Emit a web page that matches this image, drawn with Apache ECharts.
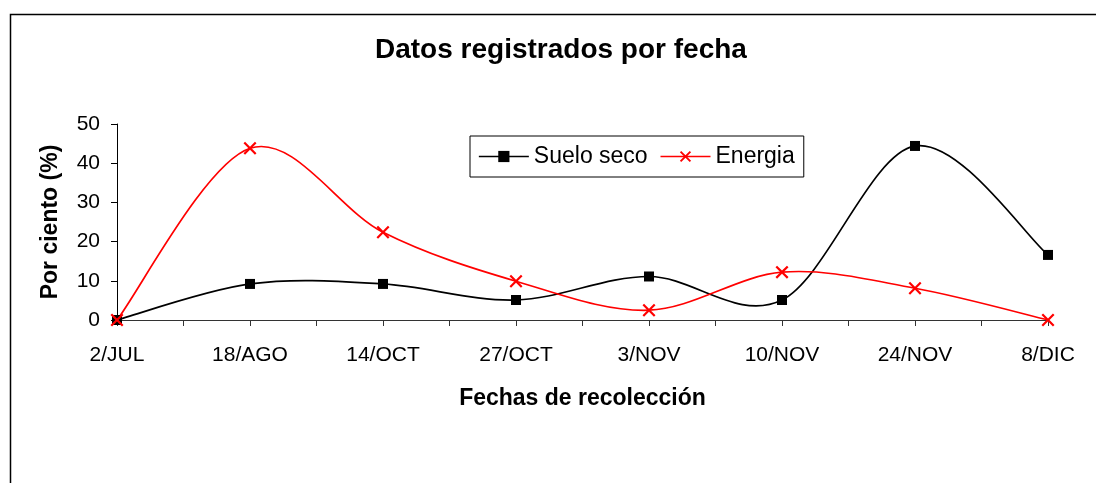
<!DOCTYPE html>
<html>
<head>
<meta charset="utf-8">
<script src="https://cdn.jsdelivr.net/npm/echarts@6/dist/echarts.min.js"></script>
<style>
  html, body { margin: 0; padding: 0; background: #fff; }
  #chart { width: 1096px; height: 483px; }
</style>
</head>
<body>
<div id="chart"></div>
<script>
// Collection dates (category labels on the x axis)
const fechas = ['2/JUL', '18/AGO', '14/OCT', '27/OCT', '3/NOV', '10/NOV', '24/NOV', '8/DIC'];
// Percent values per date
const sueloSeco = [0, 9.2, 9.2, 5.1, 11.1, 5.1, 44.4, 16.6];
const energia = [0, 43.8, 22.4, 9.9, 2.5, 12.2, 8.1, 0];
// Y axis tick range
const yMin = 0, yMax = 50, yStep = 10;

const FONT = '"Liberation Sans", Arial, sans-serif';
const BLACK = '#000000';
const RED = '#ff0000';
const toPairs = arr => arr.map((v, i) => [i, v]);
const crossPath = 'path://M0,1.2 L1.2,0 L5,3.8 L8.8,0 L10,1.2 L6.2,5 L10,8.8 L8.8,10 L5,6.2 L1.2,10 L0,8.8 L3.8,5 Z';

// Catmull-Rom style smoothed curve: one cubic segment per pair of neighbouring points,
// positioned through the chart's own coordinate system.
function smoothCurve(values, color) {
  return function (params, api) {
    const i = params.dataIndex;
    const n = values.length;
    if (i >= n - 1) return null;
    const at = k => {
      const j = Math.max(0, Math.min(n - 1, k));
      return api.coord([j, values[j]]);
    };
    const p0 = at(i - 1), p1 = at(i), p2 = at(i + 1), p3 = at(i + 2);
    return {
      type: 'bezierCurve',
      shape: {
        x1: p1[0], y1: p1[1],
        x2: p2[0], y2: p2[1],
        cpx1: p1[0] + (p2[0] - p0[0]) / 6,
        cpy1: p1[1] + (p2[1] - p0[1]) / 6,
        cpx2: p2[0] - (p3[0] - p1[0]) / 6,
        cpy2: p2[1] - (p3[1] - p1[1]) / 6
      },
      style: { stroke: color, lineWidth: 1.7, fill: null }
    };
  };
}

const chart = echarts.init(document.getElementById('chart'), null, { renderer: 'canvas' });
chart.setOption({
  animation: false,
  backgroundColor: '#fff',
  textStyle: { fontFamily: FONT },
  graphic: [{
    type: 'rect',
    shape: { x: 10.5, y: 14.5, width: 1200, height: 600 },
    style: { fill: 'none', stroke: '#000', lineWidth: 1.5 },
    silent: true
  }],
  title: {
    text: 'Datos registrados por fecha',
    left: 375, top: 36, padding: 0,
    textStyle: { fontFamily: FONT, fontSize: 28, fontWeight: 'bold', color: '#000' }
  },
  legend: {
    left: 470, top: 136,
    padding: [9, 9, 9, 8],
    itemGap: 12,
    itemWidth: 50, itemHeight: 14,
    borderColor: '#000', borderWidth: 1,
    textStyle: { fontFamily: FONT, fontSize: 23, color: '#000' },
    data: [
      { name: 'Suelo seco', lineStyle: { color: BLACK, width: 1.7, opacity: 1 } },
      { name: 'Energia', lineStyle: { color: RED, width: 1.7, opacity: 1 } }
    ]
  },
  grid: { left: 117, right: 48, top: 124, bottom: 163, containLabel: false },
  xAxis: {
    type: 'value',
    min: 0, max: fechas.length - 1, interval: 1,
    name: 'Fechas de recolección',
    nameLocation: 'middle', nameGap: 67,
    nameTextStyle: { fontFamily: FONT, fontSize: 23, fontWeight: 'bold', color: '#000' },
    axisLine: { show: true, onZero: false, lineStyle: { color: '#333', width: 1 } },
    axisTick: { show: true, length: 6, lineStyle: { color: '#333' } },
    minorTick: { show: true, splitNumber: 2, length: 6, lineStyle: { color: '#333' } },
    splitLine: { show: false },
    axisLabel: {
      margin: 25, fontFamily: FONT, fontSize: 21, color: '#000',
      formatter: v => fechas[v] || ''
    }
  },
  yAxis: {
    type: 'value',
    min: yMin, max: yMax, interval: yStep,
    name: 'Por ciento (%)',
    nameLocation: 'middle', nameGap: 55, nameRotate: 90,
    nameTextStyle: { fontFamily: FONT, fontSize: 23, fontWeight: 'bold', color: '#000' },
    axisLine: { show: true, lineStyle: { color: '#000', width: 1 } },
    axisTick: { show: true, length: 6, lineStyle: { color: '#000' } },
    splitLine: { show: false },
    axisLabel: { margin: 17, fontFamily: FONT, fontSize: 21, color: '#000' }
  },
  series: [
    {
      name: 'Suelo seco (curva)',
      type: 'custom',
      data: toPairs(sueloSeco),
      renderItem: smoothCurve(sueloSeco, BLACK),
      silent: true,
      z: 2
    },
    {
      name: 'Energia (curva)',
      type: 'custom',
      data: toPairs(energia),
      renderItem: smoothCurve(energia, RED),
      silent: true,
      z: 3
    },
    {
      name: 'Suelo seco',
      type: 'line',
      data: toPairs(sueloSeco),
      symbol: 'rect', symbolSize: 10,
      lineStyle: { color: BLACK, width: 1.7, opacity: 0 },
      itemStyle: { color: BLACK },
      z: 4
    },
    {
      name: 'Energia',
      type: 'line',
      data: toPairs(energia),
      symbol: crossPath, symbolSize: 13,
      lineStyle: { color: RED, width: 1.7, opacity: 0 },
      itemStyle: { color: RED },
      z: 5
    }
  ]
});
</script>
</body>
</html>
